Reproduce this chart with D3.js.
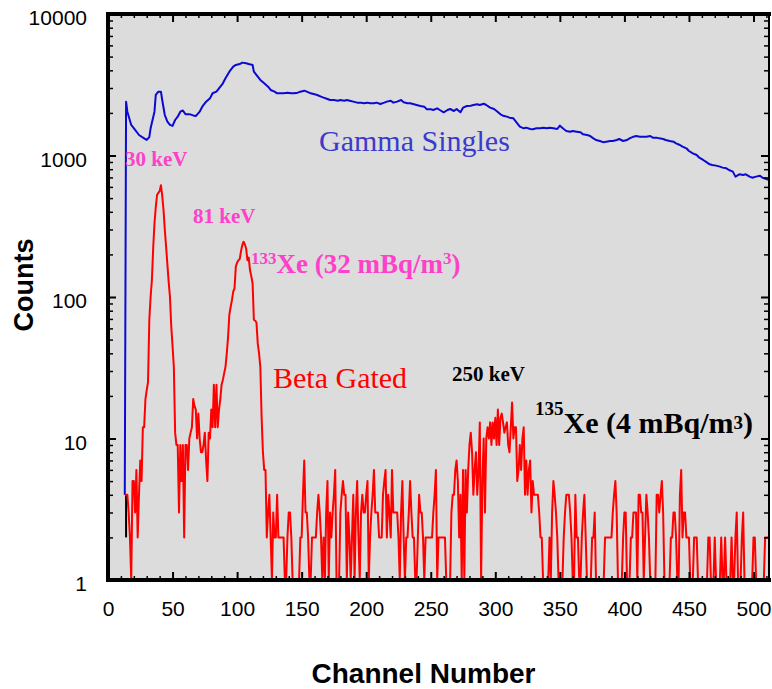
<!DOCTYPE html>
<html>
<head>
<meta charset="utf-8">
<script src="https://cdn.jsdelivr.net/npm/d3@7"></script>
<style>
  html, body { margin: 0; padding: 0; background: #ffffff; }
  svg { display: block; }
</style>
</head>
<body>
<svg id="chart" width="772" height="689"></svg>
<script>
// ---- Data ---------------------------------------------------------------

// Beta-gated spectrum: counts per channel, first entry is channel 13
const betaStartChannel = 13;
const betaCounts = [
  4, 4, 4, 3, 2, 1, 5, 5, 3, 6,                      // 13-22
  2, 4, 7, 5, 12, 12, 19, 22, 25, 69,                // 23-32
  100, 132, 221, 332, 430, 526, 545, 560, 617, 520,  // 33-42
  412, 300, 227, 170, 128, 100, 62, 45, 32, 11,      // 43-52
  9, 9, 3, 9, 5, 9, 2, 9, 9, 6,                      // 53-62
  10, 11, 12, 19, 17, 16, 10, 15, 10, 8,             // 63-72
  8, 9, 11, 7, 5, 11, 10, 16, 12, 24,                // 73-82
  12, 24, 12, 16, 19, 24, 26, 29, 32, 40,            // 83-92
  52, 75, 85, 95, 109, 115, 164, 175, 182, 185,      // 93-102
  210, 233, 246, 235, 220, 182, 190, 155, 140, 125,  // 103-112
  69, 68, 66, 47, 40, 32, 14, 8, 6, 6,               // 113-122
  2, 3, 4, 2, 1, 3, 2, 2, 4, 2,                      // 123-132
  2, 2, 2, 2, 1, 1, 2, 3, 3, 2,                      // 133-142
  1, 1, 1, 1, 1, 1, 2, 2, 4, 7,                      // 143-152
  3, 3, 2, 1, 1, 2, 2, 2, 2, 3,                      // 153-162
  4, 3, 2, 1, 2, 1, 3, 5, 1, 3,                      // 163-172
  2, 3, 4, 6, 1, 1, 1, 3, 4, 5,                      // 173-182
  4, 4, 1, 3, 2, 1, 2, 4, 1, 3,                      // 183-192
  5, 2, 1, 3, 4, 3, 3, 4, 5, 1,                      // 193-202
  2, 3, 4, 6, 3, 3, 3, 2, 2, 2,                      // 203-212
  4, 5, 6, 2, 4, 3, 2, 6, 3, 3,                      // 213-222
  3, 3, 2, 1, 3, 5, 2, 1, 2, 2,                      // 223-232
  3, 5, 3, 2, 2, 1, 1, 2, 4, 3,                      // 233-242
  3, 2, 1, 2, 2, 2, 2, 2, 2, 3,                      // 243-252
  4, 6, 1, 2, 2, 2, 2, 2, 2, 1,                      // 253-262
  1, 1, 1, 3, 4, 4, 6, 7, 5, 2,                      // 263-272
  4, 1, 6, 1, 6, 3, 6, 9, 11, 8,                     // 273-282
  4, 6, 8, 4, 6, 13, 1, 5, 10, 3,                    // 283-292
  10, 12, 10, 13, 9, 13, 10, 14, 9, 16,              // 293-302
  9, 14, 15, 13, 11, 12, 13, 9, 8, 12,               // 303-312
  18, 10, 12, 12, 5, 6, 9, 6, 10, 12,                // 313-322
  4, 7, 4, 6, 7, 3, 5, 4, 4, 4,                      // 323-332
  4, 3, 2, 2, 1, 1, 1, 1, 1, 2,                      // 333-342
  1, 3, 5, 4, 3, 2, 1, 1, 1, 1,                      // 343-352
  2, 3, 4, 4, 4, 3, 2, 1, 1, 4,                      // 353-362
  2, 2, 1, 1, 2, 3, 4, 2, 1, 1,                      // 363-372
  1, 1, 2, 2, 3, 1, 1, 1, 1, 1,                      // 373-382
  1, 1, 2, 2, 2, 2, 2, 2, 3, 4,                      // 383-392
  5, 3, 1, 1, 1, 1, 2, 3, 3, 1,                      // 393-402
  1, 1, 2, 2, 3, 3, 3, 1, 4, 4,                      // 403-412
  3, 3, 1, 2, 4, 3, 2, 1, 1, 1,                      // 413-422
  1, 1, 4, 4, 3, 4, 5, 3, 1, 1,                      // 423-432
  1, 1, 1, 2, 2, 3, 3, 2, 1, 1,                      // 433-442
  4, 6, 2, 3, 3, 2, 2, 2, 1, 1,                      // 443-452
  1, 2, 2, 2, 1, 1, 1, 1, 1, 1,                      // 453-462
  1, 1, 2, 2, 1, 1, 1, 2, 1, 1,                      // 463-472
  1, 1, 2, 1, 1, 2, 1, 1, 1, 1,                      // 473-482
  2, 1, 1, 2, 3, 1, 1, 1, 2, 3,                      // 483-492
  1, 1, 1, 1, 1, 1, 1, 2, 2, 1,                      // 493-502
  1, 1, 1, 1, 1, 1, 2, 2, 2, 2                       // 503-512
];

// Gamma singles spectrum, sampled channels and counts
const gammaChannels = [
  13, 14, 15, 18, 21, 24, 28, 30, 32, 33, 36, 37, 39, 41, 42, 44, 46, 48, 50, 52,
  54, 56, 58, 60, 63, 66, 68, 71, 73, 76, 79, 81, 84, 86, 89, 91, 94, 97, 99, 102,
  104, 107, 109, 112, 113, 116, 118, 121, 124, 126, 129, 131, 134, 136, 139, 142, 144, 147, 149, 152,
  154, 157, 160, 162, 165, 167, 170, 172, 175, 178, 180, 183, 185, 188, 190, 193, 196, 198, 201, 203,
  206, 208, 211, 214, 216, 219, 221, 224, 227, 229, 232, 234, 237, 239, 242, 245, 247, 250, 252, 255,
  257, 260, 263, 265, 268, 270, 273, 275, 278, 281, 283, 286, 288, 291, 293, 296, 299, 301, 304, 306,
  309, 311, 314, 317, 319, 322, 324, 327, 329, 332, 335, 337, 340, 342, 345, 348, 350, 353, 355, 358,
  360, 363, 366, 368, 371, 373, 376, 378, 381, 384, 386, 389, 391, 394, 396, 399, 402, 404, 407, 409,
  412, 414, 417, 420, 422, 425, 427, 430, 432, 435, 438, 440, 443, 445, 448, 450, 453, 456, 458, 461,
  463, 466, 468, 471, 474, 476, 479, 481, 484, 486, 489, 492, 494, 497, 499, 502, 505, 507, 510, 512
];
const gammaCounts = [
  4, 2400, 2040, 1645, 1515, 1396, 1322, 1288, 1350, 1557, 2040, 2679, 2827, 2827, 2467, 1932, 1733, 1645, 1620, 1782,
  1880, 2040, 2080, 1960, 1960, 1920, 1900, 2040, 2213, 2400, 2535, 2752, 2827, 2985, 3237, 3514, 3911, 4244, 4364, 4430,
  4532, 4490, 4430, 4364, 3911, 3606, 3422, 3237, 3063, 2905, 2826, 2750, 2750, 2750, 2780, 2750, 2750, 2780, 2826, 2872,
  2826, 2750, 2706, 2677, 2605, 2563, 2507, 2467, 2467, 2440, 2467, 2440, 2467, 2427, 2402, 2363, 2363, 2337, 2363, 2337,
  2337, 2363, 2312, 2363, 2402, 2440, 2363, 2402, 2467, 2380, 2337, 2337, 2299, 2275, 2238, 2214, 2120, 2120, 2097, 2154,
  2097, 2019, 2097, 2131, 2063, 2131, 2019, 2178, 2238, 2250, 2275, 2299, 2275, 2324, 2275, 2178, 2131, 2063, 1954, 1912,
  1882, 1851, 1831, 1688, 1599, 1556, 1573, 1539, 1531, 1556, 1556, 1573, 1556, 1573, 1556, 1539, 1625, 1539, 1490, 1474,
  1490, 1474, 1458, 1411, 1396, 1381, 1322, 1287, 1266, 1239, 1253, 1266, 1266, 1287, 1308, 1266, 1287, 1322, 1358, 1373,
  1358, 1358, 1358, 1373, 1337, 1337, 1322, 1308, 1287, 1266, 1253, 1219, 1187, 1155, 1124, 1076, 1036, 1008, 965, 930,
  904, 866, 857, 848, 834, 821, 812, 790, 769, 709, 736, 728, 736, 709, 697, 709, 720, 697, 682, 671
];

// Short black trace at the start of the gated spectrum
const blackTraceChannels = [14, 14];
const blackTraceCounts = [2, 4];

// Axis ticks
const xMajorTicks = [0, 50, 100, 150, 200, 250, 300, 350, 400, 450, 500];
const yMajorTicks = [1, 10, 100, 1000, 10000];

// ---- Layout -------------------------------------------------------------
const plot = { left: 108, right: 769, top: 14, bottom: 580 };
const sansFont = "'Liberation Sans', Arial, Helvetica, sans-serif";
const serifFont = "'Liberation Serif', 'Times New Roman', Times, serif";

const x = d3.scaleLinear().domain([0, 512]).range([plot.left, plot.right]);
const y = d3.scaleLog().domain([1, 10000]).range([plot.bottom, plot.top]);

const xMinorTicks = d3.range(10, 512, 10).filter(v => v % 50 !== 0);
const yMinorTicks = [];
[1, 10, 100, 1000].forEach(d => { for (let k = 2; k <= 9; k++) yMinorTicks.push(d * k); });

const svg = d3.select("#chart");

svg.append("rect")
  .attr("x", plot.left).attr("y", plot.top)
  .attr("width", plot.right - plot.left).attr("height", plot.bottom - plot.top)
  .attr("fill", "#dcdcdc");

svg.append("clipPath").attr("id", "plot-clip")
  .append("rect")
  .attr("x", plot.left).attr("y", plot.top - 2)
  .attr("width", plot.right - plot.left).attr("height", plot.bottom - plot.top + 2);

const lines = svg.append("g").attr("clip-path", "url(#plot-clip)");

const line = d3.line()
  .x(d => x(d[0]))
  .y(d => y(Math.max(1, d[1])));

const gammaData = gammaChannels.map((c, i) => [c, gammaCounts[i]]);
const betaData = betaCounts.map((v, i) => [betaStartChannel + i, v]);
const blackData = blackTraceChannels.map((c, i) => [c, blackTraceCounts[i]]);

lines.append("path")
  .datum(gammaData)
  .attr("d", line)
  .attr("fill", "none")
  .attr("stroke", "#0a0ad2")
  .attr("stroke-width", 2)
  .attr("stroke-linejoin", "round");

lines.append("path")
  .datum(blackData)
  .attr("d", line)
  .attr("fill", "none")
  .attr("stroke", "#000000")
  .attr("stroke-width", 2);

lines.append("path")
  .datum(betaData)
  .attr("d", line)
  .attr("fill", "none")
  .attr("stroke", "#ff0000")
  .attr("stroke-width", 2)
  .attr("stroke-linejoin", "round");

// ---- Axes (inward ticks on all four sides) -----------------------------
function styleAxis(g, width) {
  g.select(".domain").remove();
  g.selectAll(".tick line").attr("stroke", "#000").attr("stroke-width", width);
}

// bottom
svg.append("g").attr("transform", `translate(0,${plot.bottom})`)
  .call(d3.axisBottom(x).tickValues(xMinorTicks).tickSize(-4).tickFormat(""))
  .call(g => styleAxis(g, 1.5));
svg.append("g").attr("transform", `translate(0,${plot.bottom})`)
  .call(d3.axisBottom(x).tickValues(xMajorTicks).tickSize(-8).tickPadding(21.5).tickFormat(d3.format("d")))
  .call(g => styleAxis(g, 2))
  .call(g => g.selectAll("text")
    .attr("font-family", sansFont).attr("font-size", 21).attr("fill", "#000"));

// top
svg.append("g").attr("transform", `translate(0,${plot.top})`)
  .call(d3.axisTop(x).tickValues(xMinorTicks).tickSize(-4).tickFormat(""))
  .call(g => styleAxis(g, 1.5));
svg.append("g").attr("transform", `translate(0,${plot.top})`)
  .call(d3.axisTop(x).tickValues(xMajorTicks).tickSize(-8).tickFormat(""))
  .call(g => styleAxis(g, 2));

// left
svg.append("g").attr("transform", `translate(${plot.left},0)`)
  .call(d3.axisLeft(y).tickValues(yMinorTicks).tickSize(-5).tickFormat(""))
  .call(g => styleAxis(g, 1.5));
svg.append("g").attr("transform", `translate(${plot.left},0)`)
  .call(d3.axisLeft(y).tickValues(yMajorTicks).tickSize(-8).tickPadding(21).tickFormat(d3.format("d")))
  .call(g => styleAxis(g, 2))
  .call(g => g.selectAll("text")
    .attr("font-family", sansFont).attr("font-size", 21).attr("fill", "#000")
    .attr("dy", "0.5em"));

// right
svg.append("g").attr("transform", `translate(${plot.right},0)`)
  .call(d3.axisRight(y).tickValues(yMinorTicks).tickSize(-5).tickFormat(""))
  .call(g => styleAxis(g, 1.5));
svg.append("g").attr("transform", `translate(${plot.right},0)`)
  .call(d3.axisRight(y).tickValues(yMajorTicks).tickSize(-8).tickFormat(""))
  .call(g => styleAxis(g, 2));

// frame
const frame = svg.append("g").attr("stroke", "#000").attr("stroke-linecap", "square");
frame.append("line").attr("x1", plot.left).attr("x2", plot.left)
  .attr("y1", plot.top).attr("y2", plot.bottom).attr("stroke-width", 4);
frame.append("line").attr("x1", plot.left).attr("x2", plot.right)
  .attr("y1", plot.top).attr("y2", plot.top).attr("stroke-width", 4);
frame.append("line").attr("x1", plot.left).attr("x2", plot.right)
  .attr("y1", plot.bottom).attr("y2", plot.bottom).attr("stroke-width", 4);
frame.append("line").attr("x1", plot.right).attr("x2", plot.right)
  .attr("y1", plot.top).attr("y2", plot.bottom).attr("stroke-width", 2);

// ---- Axis titles --------------------------------------------------------
svg.append("text")
  .attr("x", (plot.left + plot.right) / 2 - 15).attr("y", 683)
  .attr("text-anchor", "middle")
  .attr("font-family", sansFont).attr("font-weight", "bold").attr("font-size", 28)
  .text("Channel Number");

svg.append("text")
  .attr("transform", "translate(33,285) rotate(-90)")
  .attr("text-anchor", "middle")
  .attr("font-family", sansFont).attr("font-weight", "bold").attr("font-size", 27)
  .text("Counts");

// ---- Annotations --------------------------------------------------------
const magenta = "#ff40c8";

svg.append("text")
  .attr("x", 319).attr("y", 151)
  .attr("font-family", serifFont).attr("font-size", 30).attr("fill", "#3a3acd")
  .text("Gamma Singles");

svg.append("text")
  .attr("x", 273).attr("y", 388)
  .attr("font-family", serifFont).attr("font-size", 30).attr("fill", "#ff0000")
  .text("Beta Gated");

svg.append("text")
  .attr("x", 125).attr("y", 166)
  .attr("font-family", serifFont).attr("font-weight", "bold").attr("font-size", 21).attr("fill", magenta)
  .text("30 keV");

svg.append("text")
  .attr("x", 193).attr("y", 223)
  .attr("font-family", serifFont).attr("font-weight", "bold").attr("font-size", 21).attr("fill", magenta)
  .text("81 keV");

svg.append("text")
  .attr("x", 452).attr("y", 381)
  .attr("font-family", serifFont).attr("font-weight", "bold").attr("font-size", 21).attr("fill", "#000")
  .text("250 keV");

const xe133 = svg.append("text")
  .attr("x", 251).attr("y", 273)
  .attr("font-family", serifFont).attr("font-weight", "bold").attr("font-size", 27).attr("fill", magenta);
xe133.append("tspan").attr("font-size", 17).attr("dy", -9).text("133");
xe133.append("tspan").attr("dy", 9).text("Xe (32 mBq/m");
xe133.append("tspan").attr("font-size", 17).attr("dy", -9).text("3");
xe133.append("tspan").attr("dy", 9).text(")");

const xe135 = svg.append("text")
  .attr("x", 535).attr("y", 433)
  .attr("font-family", serifFont).attr("font-weight", "bold").attr("font-size", 30).attr("fill", "#000");
xe135.append("tspan").attr("font-size", 19).attr("dy", -18).text("135");
xe135.append("tspan").attr("dy", 18).text("Xe (4 mBq/m");
xe135.append("tspan").attr("font-size", 19).attr("dy", -4).text("3");
xe135.append("tspan").attr("dy", 4).text(")");
</script>
</body>
</html>
